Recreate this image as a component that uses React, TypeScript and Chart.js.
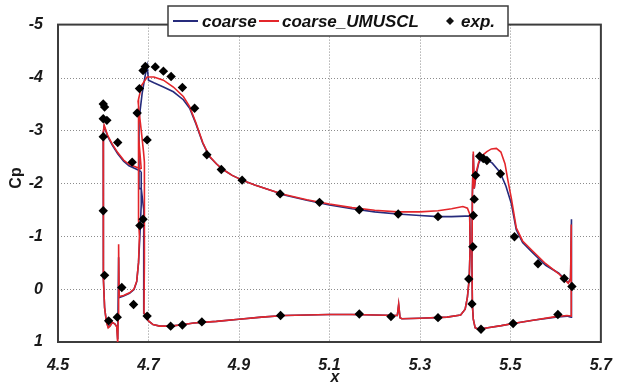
import React, { useEffect, useRef } from "react";
import { Chart, registerables } from "chart.js";

Chart.register(...registerables);

// ---- data (x, Cp) ----
const xTicks = [4.5, 4.7, 4.9, 5.1, 5.3, 5.5, 5.7];
const yTicks = [-5, -4, -3, -2, -1, 0, 1];

const redSlat: [number, number][] = [
  [4.684, -2.27], [4.675, -2.3], [4.657, -2.36], [4.645, -2.44], [4.632, -2.58], [4.62, -2.74],
  [4.61, -2.9], [4.604, -3.05], [4.602, -3.1], [4.6, -2.95], [4.6, -2.0], [4.6, -1.0], [4.601, -0.2],
  [4.603, 0.35], [4.607, 0.62], [4.611, 0.73], [4.615, 0.7], [4.62, 0.63], [4.626, 0.66], [4.63, 0.72],
  [4.632, 1.04], [4.633, 0.5], [4.634, -0.85], [4.635, 0.14], [4.645, 0.12], [4.658, 0.07], [4.668, 0.0],
  [4.674, -0.15], [4.678, -0.5], [4.68, -1.0], [4.678, -1.3], [4.677, -3.6], [4.679, -2.9], [4.684, -2.27],
];
const blueSlat: [number, number][] = [
  [4.684, -2.22], [4.675, -2.26], [4.657, -2.33], [4.645, -2.42], [4.632, -2.56], [4.62, -2.72],
  [4.61, -2.88], [4.604, -3.03], [4.602, -3.07], [4.6, -2.95], [4.6, -2.0], [4.6, -1.0], [4.601, -0.2],
  [4.603, 0.35], [4.607, 0.62], [4.611, 0.72], [4.615, 0.69], [4.62, 0.63], [4.626, 0.66], [4.63, 0.71],
  [4.632, 0.95], [4.634, -0.6], [4.635, 0.16], [4.645, 0.13], [4.658, 0.08], [4.668, 0.01],
  [4.674, -0.14], [4.678, -0.5], [4.681, -1.0], [4.684, -1.6], [4.684, -2.22],
];
const redMain: [number, number][] = [
  [4.69, 0.45], [4.691, -0.5], [4.691, -1.5], [4.691, -2.4], [4.689, -2.6], [4.684, -3.0], [4.68, -3.3],
  [4.677, -3.55], [4.685, -3.85], [4.697, -4.01], [4.712, -4.01], [4.733, -3.95], [4.755, -3.82],
  [4.777, -3.64], [4.791, -3.45], [4.805, -3.14], [4.82, -2.77], [4.834, -2.52], [4.85, -2.37],
  [4.863, -2.27], [4.885, -2.15], [4.907, -2.06], [4.935, -1.97], [4.97, -1.87], [5.0, -1.79],
  [5.05, -1.69], [5.1, -1.61], [5.15, -1.54], [5.2, -1.49], [5.25, -1.46], [5.3, -1.46], [5.34, -1.48],
  [5.37, -1.52], [5.395, -1.56], [5.405, -1.53], [5.41, -1.42], [5.411, -0.8], [5.409, -0.2],
  [5.405, 0.15], [5.4, 0.38], [5.39, 0.49], [5.36, 0.53], [5.3, 0.55], [5.26, 0.56], [5.256, 0.54],
  [5.253, 0.28], [5.25, 0.5], [5.2, 0.49], [5.15, 0.48], [5.1, 0.48], [5.05, 0.49], [5.0, 0.5],
  [4.95, 0.53], [4.9, 0.57], [4.85, 0.61], [4.8, 0.64], [4.77, 0.68], [4.748, 0.7], [4.725, 0.7],
  [4.71, 0.67], [4.7, 0.6], [4.694, 0.52], [4.69, 0.45],
];
const blueMain: [number, number][] = [
  [4.69, 0.45], [4.69, -0.5], [4.689, -1.5], [4.684, -1.9], [4.679, -1.9], [4.679, -3.2], [4.686, -3.7],
  [4.693, -4.05], [4.697, -4.22], [4.7, -3.95], [4.712, -3.9], [4.733, -3.82], [4.755, -3.73],
  [4.777, -3.58], [4.791, -3.42], [4.805, -3.12], [4.82, -2.76], [4.834, -2.51], [4.85, -2.37],
  [4.863, -2.27], [4.885, -2.15], [4.907, -2.06], [4.935, -1.97], [4.97, -1.87], [5.0, -1.78],
  [5.05, -1.68], [5.1, -1.59], [5.15, -1.52], [5.2, -1.46], [5.25, -1.42], [5.3, -1.39], [5.34, -1.37],
  [5.37, -1.37], [5.4, -1.38], [5.41, -1.38], [5.411, -0.8], [5.409, -0.2], [5.405, 0.15], [5.4, 0.38],
  [5.39, 0.49], [5.36, 0.53], [5.3, 0.55], [5.26, 0.56], [5.256, 0.54], [5.253, 0.3], [5.25, 0.5],
  [5.2, 0.49], [5.15, 0.48], [5.1, 0.48], [5.05, 0.49], [5.0, 0.5], [4.95, 0.53], [4.9, 0.57],
  [4.85, 0.61], [4.8, 0.64], [4.77, 0.68], [4.748, 0.7], [4.725, 0.7], [4.71, 0.67], [4.7, 0.6],
  [4.694, 0.52], [4.69, 0.45],
];
const redFlap: [number, number][] = [
  [5.634, 0.51], [5.634, -0.05], [5.635, -1.22], [5.633, -0.2], [5.628, -0.11], [5.607, -0.29],
  [5.578, -0.48], [5.548, -0.73], [5.527, -0.91], [5.513, -1.16], [5.502, -1.72], [5.495, -2.03],
  [5.488, -2.37], [5.479, -2.59], [5.469, -2.66], [5.458, -2.65], [5.448, -2.6], [5.437, -2.52],
  [5.43, -2.4], [5.424, -2.2], [5.42, -1.9], [5.418, -2.6], [5.416, -1.8], [5.415, -0.5], [5.416, 0.3],
  [5.418, 0.57], [5.422, 0.73], [5.43, 0.76], [5.45, 0.73], [5.48, 0.69], [5.506, 0.65], [5.55, 0.59],
  [5.6, 0.52], [5.625, 0.5], [5.634, 0.51],
];
const blueFlap: [number, number][] = [
  [5.634, 0.53], [5.634, -0.05], [5.636, -1.32], [5.633, -0.2], [5.628, -0.12], [5.607, -0.3],
  [5.578, -0.45], [5.548, -0.7], [5.527, -0.88], [5.513, -1.12], [5.502, -1.62], [5.49, -1.95],
  [5.477, -2.21], [5.46, -2.38], [5.448, -2.45], [5.437, -2.49], [5.43, -2.38], [5.424, -2.15],
  [5.42, -1.9], [5.418, -2.55], [5.416, -1.8], [5.415, -0.5], [5.416, 0.3], [5.418, 0.57], [5.422, 0.73],
  [5.43, 0.76], [5.45, 0.73], [5.48, 0.69], [5.506, 0.65], [5.55, 0.59], [5.6, 0.53], [5.625, 0.51],
  [5.634, 0.53],
];
const expPoints: [number, number][] = [
  [4.6, -3.5], [4.603, -3.44], [4.6, -3.22], [4.608, -3.19], [4.6, -2.88], [4.632, -2.77], [4.664, -2.4],
  [4.6, -1.48], [4.603, -0.26], [4.612, 0.6], [4.631, 0.53], [4.641, -0.03], [4.667, 0.29], [4.681, -1.2],
  [4.688, -1.32],
  [4.675, -3.33], [4.68, -3.79], [4.688, -4.13], [4.693, -4.21], [4.715, -4.2], [4.733, -4.12],
  [4.75, -4.02], [4.775, -3.81], [4.802, -3.42], [4.697, -2.82], [4.829, -2.54], [4.861, -2.26],
  [4.907, -2.06], [4.991, -1.8], [5.078, -1.64], [5.166, -1.5], [5.252, -1.42], [5.34, -1.37],
  [4.697, 0.51], [4.749, 0.7], [4.775, 0.68], [4.818, 0.62], [4.992, 0.5], [5.166, 0.47], [5.236, 0.52],
  [5.34, 0.54],
  [5.418, -1.39], [5.42, -1.7], [5.423, -2.15], [5.432, -2.51], [5.44, -2.47], [5.448, -2.43],
  [5.478, -2.18], [5.509, -0.99], [5.561, -0.48], [5.619, -0.2], [5.636, -0.05], [5.417, -0.8],
  [5.408, -0.19], [5.415, 0.28], [5.435, 0.76], [5.506, 0.65], [5.605, 0.48],
];

const BLUE = "#262b7c";
const RED = "#e3262b";
const FONT = "'Liberation Sans', Arial, sans-serif";

function joinParts(parts: [number, number][][]) {
  const out: { x: number; y: number | null }[] = [];
  parts.forEach((p, i) => {
    if (i > 0) out.push({ x: p[0][0], y: null });
    p.forEach(([x, y]) => out.push({ x, y }));
  });
  return out;
}

const decorPlugin = {
  id: "decor",
  beforeDatasetsDraw(chart: any) {
    const { ctx, chartArea: a } = chart;
    const xs = chart.scales.x;
    const ys = chart.scales.y;
    ctx.save();
    // dotted grid lines at inner ticks
    ctx.strokeStyle = "#8c8c8c";
    ctx.lineWidth = 1;
    ctx.setLineDash([1, 2]);
    xTicks.slice(1, -1).forEach((v) => {
      const px = Math.round(xs.getPixelForValue(v)) + 0.5;
      ctx.beginPath(); ctx.moveTo(px, a.top); ctx.lineTo(px, a.bottom); ctx.stroke();
    });
    yTicks.slice(1, -1).forEach((v) => {
      const py = Math.round(ys.getPixelForValue(v)) + 0.5;
      ctx.beginPath(); ctx.moveTo(a.left, py); ctx.lineTo(a.right, py); ctx.stroke();
    });
    ctx.setLineDash([]);
    ctx.strokeStyle = "#3c3c3c";
    ctx.lineWidth = 2;
    ctx.strokeRect(a.left, a.top, a.right - a.left, a.bottom - a.top);
    ctx.restore();
  },
  afterDraw(chart: any) {
    const { ctx } = chart;
    ctx.save();
    // axis titles
    ctx.fillStyle = "#1a1a1a";
    ctx.font = `bold 16px ${FONT}`;
    ctx.textAlign = "center";
    ctx.textBaseline = "middle";
    ctx.save();
    ctx.translate(17, 178);
    ctx.rotate(-Math.PI / 2);
    ctx.fillText("Cp", 0, 0);
    ctx.restore();
    ctx.font = `bold italic 16px ${FONT}`;
    ctx.fillText("x", 335, 378);

    // legend box
    const bx = 168, by = 6, bw = 340, bh = 30;
    ctx.fillStyle = "#ffffff";
    ctx.fillRect(bx, by, bw, bh);
    ctx.strokeStyle = "#3c3c3c";
    ctx.lineWidth = 1.5;
    ctx.strokeRect(bx, by, bw, bh);
    const cy = by + bh / 2;
    ctx.lineWidth = 2;
    ctx.strokeStyle = BLUE;
    ctx.beginPath(); ctx.moveTo(173, cy); ctx.lineTo(198, cy); ctx.stroke();
    ctx.strokeStyle = RED;
    ctx.beginPath(); ctx.moveTo(259, cy); ctx.lineTo(279, cy); ctx.stroke();
    ctx.fillStyle = "#111";
    ctx.font = `bold italic 17px ${FONT}`;
    ctx.textAlign = "left";
    ctx.fillText("coarse", 202, cy + 1);
    ctx.fillText("coarse_UMUSCL", 282, cy + 1);
    ctx.fillText("exp.", 461, cy + 1);
    // diamond marker
    ctx.beginPath();
    ctx.moveTo(450, cy - 4); ctx.lineTo(454, cy); ctx.lineTo(450, cy + 4); ctx.lineTo(446, cy);
    ctx.closePath(); ctx.fill();
    ctx.restore();
  },
};

export default function App() {
  const ref = useRef<HTMLCanvasElement>(null);
  useEffect(() => {
    if (!ref.current) return;
    const chart = new Chart(ref.current, {
      type: "scatter",
      data: {
        datasets: [
          {
            label: "exp.",
            data: expPoints.map(([x, y]) => ({ x, y })),
            showLine: false,
            pointStyle: "rectRot",
            pointRadius: 4.7,
            backgroundColor: "#000",
            borderColor: "#000",
            borderWidth: 0,
            order: 0,
          },
          {
            label: "coarse_UMUSCL",
            data: joinParts([redSlat, redMain, redFlap]),
            showLine: true,
            borderColor: RED,
            borderWidth: 1.6,
            pointRadius: 0,
            spanGaps: false,
            order: 1,
          },
          {
            label: "coarse",
            data: joinParts([blueSlat, blueMain, blueFlap]),
            showLine: true,
            borderColor: BLUE,
            borderWidth: 1.6,
            pointRadius: 0,
            spanGaps: false,
            order: 2,
          },
        ] as any,
      },
      options: {
        animation: false,
        responsive: false,
        layout: { padding: { left: 0, top: 19, right: 12, bottom: 0 } },
        plugins: { legend: { display: false }, tooltip: { enabled: false } },
        scales: {
          x: {
            type: "linear",
            min: xTicks[0],
            max: xTicks[xTicks.length - 1],
            afterBuildTicks: (s: any) => { s.ticks = xTicks.map((v) => ({ value: v })); },
            afterFit: (s: any) => { s.height = 43; },
            ticks: {
              padding: 14,
              color: "#1a1a1a",
              font: { family: FONT, size: 16, weight: "bold", style: "italic" },
              callback: (v: any) => Number(v).toFixed(1),
            },
            grid: { display: false, drawTicks: false },
            border: { display: false },
          },
          y: {
            type: "linear",
            reverse: true,
            min: yTicks[0],
            max: yTicks[yTicks.length - 1],
            afterBuildTicks: (s: any) => { s.ticks = yTicks.map((v) => ({ value: v })); },
            afterFit: (s: any) => { s.width = 58; },
            ticks: {
              padding: 15,
              color: "#1a1a1a",
              font: { family: FONT, size: 16, weight: "bold", style: "italic" },
              callback: (v: any) => String(v),
            },
            grid: { display: false, drawTicks: false },
            border: { display: false },
          },
        },
      } as any,
      plugins: [decorPlugin],
    });
    return () => chart.destroy();
  }, []);
  return (
    <div style={{ position: "absolute", left: 0, top: 0, width: 626, height: 385, background: "#fff" }}>
      <canvas ref={ref} width={626} height={385} />
    </div>
  );
}
